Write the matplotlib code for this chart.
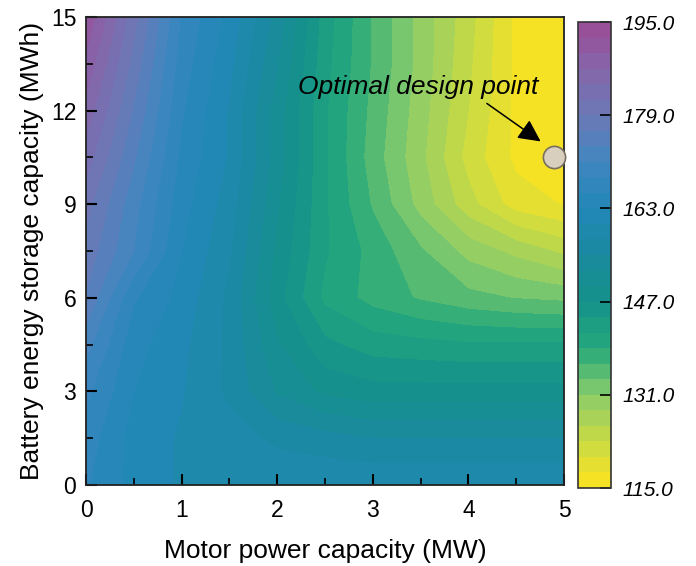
import numpy as np
import matplotlib
matplotlib.use('Agg')
import matplotlib.pyplot as plt
from matplotlib.colors import LinearSegmentedColormap

plt.rcParams['font.family'] = ['Liberation Sans', 'DejaVu Sans']

# grid
motor_mw = [0, 0.5, 1, 1.5, 2, 2.5, 3, 3.5, 4, 4.5, 5]
battery_mwh = [0, 1.5, 3, 4.5, 6, 7.5, 9, 10.5, 12, 13.5, 15]
# rows = battery_mwh (bottom to top), cols = motor_mw
cost = [
    [166, 162, 160, 160, 160, 160, 160, 160, 160, 160, 160],
    [167, 162, 160, 159, 157, 156, 155, 155, 155, 155, 155],
    [169, 163, 160.5, 157, 152, 149, 148, 148, 148, 148, 148],
    [172, 164, 161, 157, 150, 145, 143, 142.5, 142, 142, 142],
    [176, 166, 162, 157, 148, 141, 138, 136, 134.5, 133.5, 133],
    [178, 171, 163, 158, 149, 142, 138, 134, 130, 127.5, 125],
    [180, 172, 164, 159, 150, 142, 136, 130, 124, 119, 117.5],
    [183, 174, 165, 160, 151, 142, 135, 129, 122, 117, 115],
    [186, 176, 166, 160, 151, 142, 135.5, 129.5, 123, 117, 115.5],
    [189, 178, 167, 161, 152.5, 142.5, 136, 130, 123.5, 117, 115.5],
    [192, 180, 168, 162, 154, 143, 136, 130, 124, 117, 115.5],
]
cbar_ticks = [115, 131, 147, 163, 179, 195]
optimal_point = (4.9, 10.5)

# colour scale anchors
anchor_vals = [115, 123, 131, 139, 147, 155, 163, 171, 179, 187, 195]
anchor_cols = ['#fde31f', '#c8da45', '#88cc6b', '#25a87b', '#14918a', '#1a8a9e',
               '#2287b8', '#4086c0', '#6b79b6', '#8566aa', '#9b4c96']
vmin, vmax = 115, 195
cmap = LinearSegmentedColormap.from_list(
    'cost', [((v - vmin) / (vmax - vmin), c) for v, c in zip(anchor_vals, anchor_cols)])

fig = plt.figure(figsize=(6.96, 5.66), dpi=100)
ax = fig.add_axes([0.1236, 0.1431, 0.6867, 0.8269])
cax = fig.add_axes([0.8305, 0.1378, 0.0474, 0.8233])

X, Y = np.meshgrid(motor_mw, battery_mwh)
Z = np.array(cost)
levels = np.linspace(vmin, vmax, 31)
cf = ax.contourf(X, Y, Z, levels=levels, cmap=cmap, vmin=vmin, vmax=vmax)

ax.set_xlim(0, 5)
ax.set_ylim(0, 15)
ax.set_xticks([0, 1, 2, 3, 4, 5])
ax.set_xticks(np.arange(0.5, 5, 1), minor=True)
ax.set_yticks([0, 3, 6, 9, 12, 15])
ax.set_yticks(np.arange(1.5, 15, 3), minor=True)
ax.tick_params(which='major', direction='in', length=8, width=1.5, labelsize=16.5)
ax.tick_params(axis='x', which='major', pad=10)
ax.tick_params(axis='y', which='major', pad=7)
ax.tick_params(which='minor', direction='in', length=5, width=1.2)
for s in ax.spines.values():
    s.set_linewidth(1.3)
    s.set_color('#222222')
ax.set_xlabel('Motor power capacity (MW)', fontsize=19, labelpad=12)
ax.set_ylabel('Battery energy storage capacity (MWh)', fontsize=19, labelpad=5)

ax.plot(*optimal_point, 'o', ms=16, mfc='#d9cfbf', mec='#7a6f60', mew=1.2, clip_on=False, zorder=5)
ax.annotate('', xy=(4.78, 10.96), xytext=(4.17, 12.28),
            arrowprops=dict(arrowstyle='-|>', color='black', lw=1.1, mutation_scale=34))
ax.text(3.48, 12.75, 'Optimal design point', fontsize=19, style='italic',
        ha='center', va='center')

cb = fig.colorbar(cf, cax=cax, ticks=cbar_ticks)
cb.ax.set_yticklabels(['%.1f' % t for t in cbar_ticks], style='italic', fontsize=15)
cb.ax.tick_params(direction='in', length=8, width=1.2, right=True, pad=8)
cb.outline.set_linewidth(1.2)
cb.outline.set_edgecolor('#333333')

fig.savefig('out.png', dpi=100)
